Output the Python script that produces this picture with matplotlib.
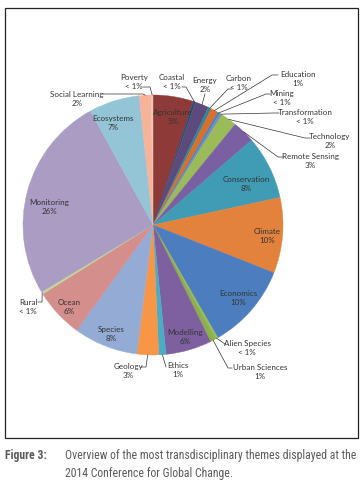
import numpy as np
import matplotlib
matplotlib.use("Agg")
import matplotlib.pyplot as plt
from matplotlib import font_manager
from matplotlib.patches import Rectangle

# slices, clockwise from 12 o'clock (share of all themes, %)
themes = ["Agriculture", "Coastal", "Energy", "Carbon", "Education", "Mining",
          "Transformation", "Technology", "Remote Sensing", "Conservation",
          "Climate", "Economics", "Alien Species", "Urban Sciences", "Modelling",
          "Ethics", "Geology", "Species", "Ocean", "Rural", "Monitoring",
          "Ecosystems", "Social Learning", "Poverty"]
shares = [5.0, 0.3, 1.7, 0.4, 0.9, 0.3,
          0.3, 2.0, 2.8, 7.9,
          9.4, 10.7, 0.3, 0.7, 5.7,
          0.9, 2.7, 8.0, 6.1, 0.3, 25.6,
          6.3, 1.5, 0.2]
pct_labels = ["5%", "< 1%", "2%", "< 1%", "1%", "< 1%",
              "< 1%", "2%", "3%", "8%",
              "10%", "10%", "< 1%", "1%", "6%",
              "1%", "3%", "8%", "6%", "< 1%", "26%",
              "7%", "2%", "< 1%"]
colors = ["#8E3A38", "#2C4D75", "#5C4A7D", "#31859C", "#D9702A", "#4F81BD",
          "#6F8FBF", "#9BBB59", "#7B5FA3", "#3F9CB4",
          "#E2823D", "#4C7EBF", "#9BBB59", "#8CB04A", "#7E60A0",
          "#4BACC6", "#F79646", "#94ABD6", "#D48E8C", "#C3D69B", "#AA9CC2",
          "#93C5D7", "#F6B39A", "#E8C8B8"]

caption_head = "Figure 3:"
caption_lines = ["Overview of the most transdisciplinary themes displayed at the",
                 "2014 Conference for Global Change."]

# layout in pixels of the 364x483 image
CX, CY, R = 153, 225, 130
W, H = 364, 483

# labels drawn inside the pie: text centre
inside_pos = {
    "Agriculture": (173, 117), "Ecosystems": (113, 123), "Monitoring": (49, 207),
    "Conservation": (246, 184), "Climate": (267, 236), "Economics": (238, 298),
    "Modelling": (185, 337), "Species": (111, 334), "Ocean": (69, 307),
}
# labels outside: text centre and the leader points from the text towards the slice
outside_pos = {
    "Poverty": ((134, 82), [(143, 87), (150, 87)]),
    "Social Learning": ((77, 99), [(103, 94), (143, 94)]),
    "Coastal": ((172, 82), [(182, 87), (186, 87)]),
    "Energy": ((205, 85), [(205, 94)]),
    "Carbon": ((239, 83), [(232, 89), (228, 89)]),
    "Education": ((298, 79), [(278, 75), (272, 75)]),
    "Mining": ((282, 98), [(270, 94), (266, 94)]),
    "Transformation": ((305, 117), [(279, 113), (274, 113)]),
    "Technology": ((330, 141), [(310, 138), (305, 138)]),
    "Remote Sensing": ((310, 161), [(283, 157), (278, 157)]),
    "Alien Species": ((247, 348), [(225, 344)]),
    "Urban Sciences": ((260, 372), [(232, 368), (228, 368)]),
    "Ethics": ((178, 370), [(166, 367)]),
    "Geology": ((128, 371), [(141, 367), (146, 367)]),
    "Rural": ((28, 307), [(38, 302), (42, 302)]),
}


def px(x, y):
    return (x - CX) / R, (CY - y) / R


def first_font(names):
    for n in names:
        try:
            font_manager.findfont(n, fallback_to_default=False)
            return n
        except ValueError:
            pass
    return 'DejaVu Sans'


plt.rcParams['font.family'] = ['Lato', 'DejaVu Sans']
fig = plt.figure(figsize=(W / 100, H / 100), dpi=100)
ax = fig.add_axes([0, 0, 1, 1])

wedges, _ = ax.pie(shares, colors=colors, startangle=90, counterclock=False,
                   radius=1, center=(0, 0), frame=True,
                   wedgeprops=dict(linewidth=0.3))
for w, c in zip(wedges, colors):
    w.set_edgecolor(c)
ax.set_xlim(-CX / R, (W - CX) / R)
ax.set_ylim((CY - H) / R, CY / R)
ax.set_aspect('auto')
ax.axis('off')

txt_color = '#333333'
for w, name, pct in zip(wedges, themes, pct_labels):
    mid = np.deg2rad((w.theta1 + w.theta2) / 2)
    edge = (np.cos(mid), np.sin(mid))
    if name in inside_pos:
        x, y = px(*inside_pos[name])
        ax.text(x, y, name + "\n" + pct, ha='center', va='center', fontsize=5.8,
                color=txt_color, linespacing=1.3)
    else:
        (tx, ty), pts = outside_pos[name]
        x, y = px(tx, ty)
        ax.text(x, y, name + "\n" + pct, ha='center', va='center', fontsize=5.8,
                color=txt_color, linespacing=1.3)
        line = [px(*p) for p in pts] + [edge]
        ax.plot([p[0] for p in line], [p[1] for p in line], color='#333333',
                linewidth=0.5)

# frame around the chart
fig.patches.append(Rectangle((5 / W, 1 - 438 / H), 353 / W, 430 / H,
                             transform=fig.transFigure, fill=False,
                             edgecolor='#222222', linewidth=0.9))

# caption, condensed face if one is installed, size fitted to the line width
cap_font = first_font(['Liberation Sans Narrow', 'DejaVu Sans Condensed',
                       'Roboto Condensed', 'Open Sans Condensed', 'Roboto'])
cap_color = '#5a5a5a'
head = fig.text(5 / W, 1 - 456 / H, caption_head, fontsize=8, fontweight='bold',
                color=cap_color, va='center', family=cap_font)
body = [fig.text(65 / W, 1 - y / H, s, fontsize=8, color=cap_color, va='center',
                 family=cap_font)
        for s, y in zip(caption_lines, [456, 473])]
renderer = fig.canvas.get_renderer()
wpx = body[0].get_window_extent(renderer).width
fs = 8 * 292 / wpx
for t in body:
    t.set_fontsize(fs)
wh = head.get_window_extent(renderer).width
head.set_fontsize(min(fs * 1.0, 8 * 46 / wh))

fig.savefig("out.png", dpi=100)
